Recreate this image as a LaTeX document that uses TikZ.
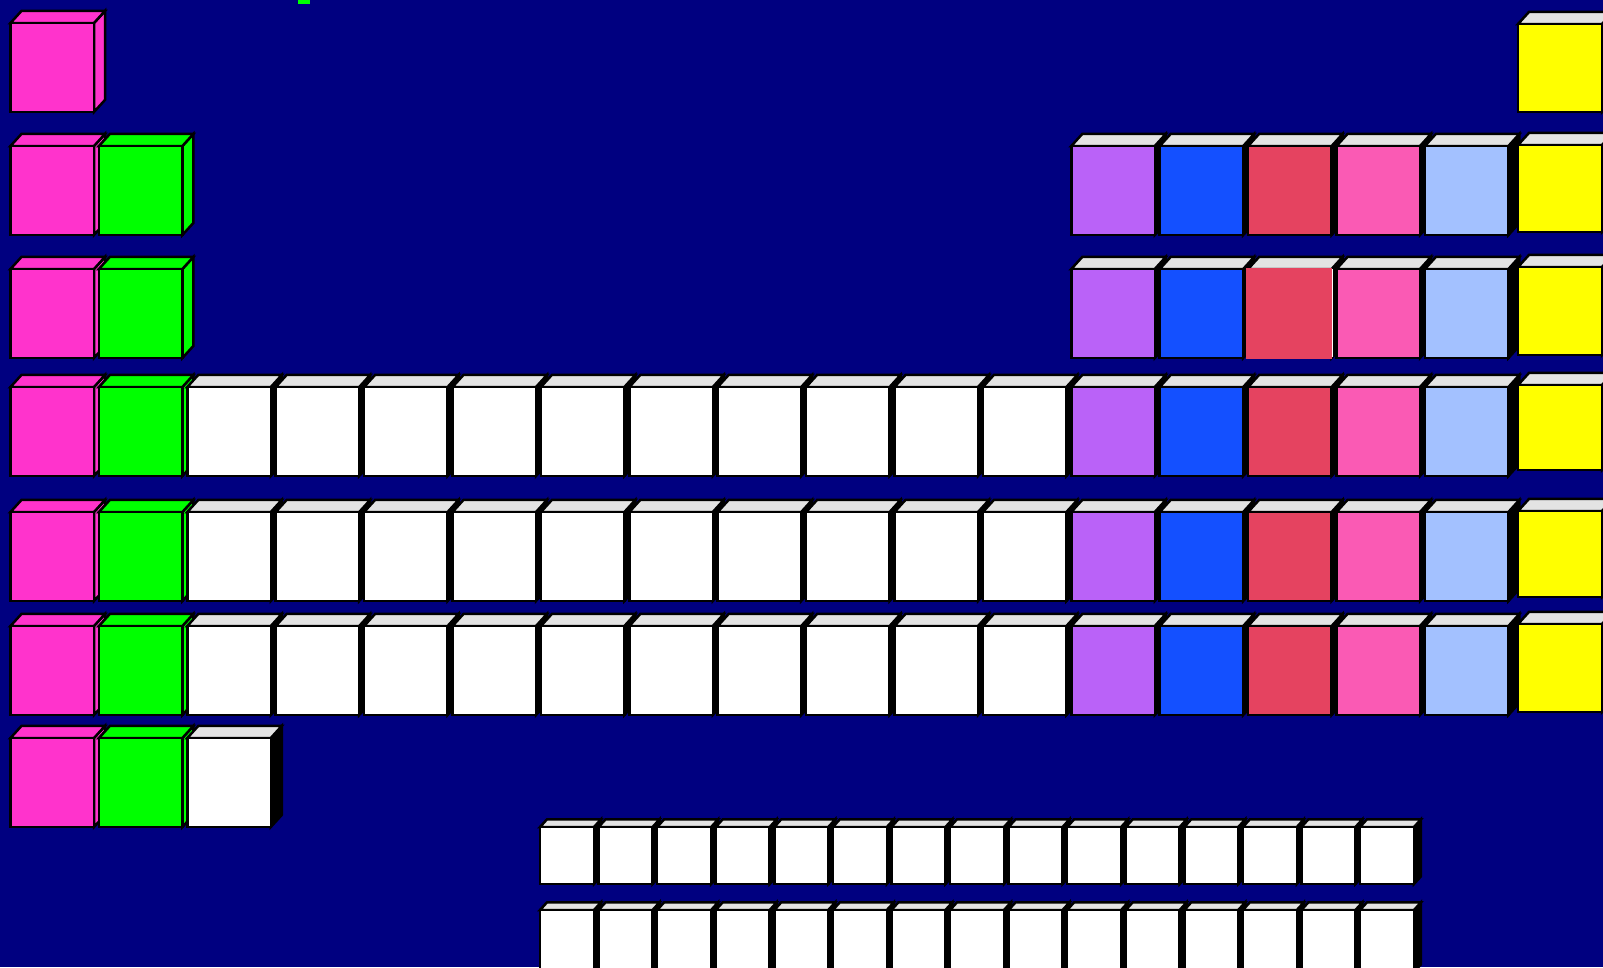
\documentclass[tikz,border=0pt]{standalone}
\usepackage{tikz}
\definecolor{bg}{HTML}{000080}
\definecolor{spink}{HTML}{FF33CC}
\definecolor{sgreen}{HTML}{00FF00}
\definecolor{topgrey}{HTML}{E3E3E3}
\definecolor{ppurple}{HTML}{BA62F8}
\definecolor{pblue}{HTML}{1450FF}
\definecolor{pred}{HTML}{E54360}
\definecolor{ppink}{HTML}{FA5AB4}
\definecolor{plblue}{HTML}{A3C1FF}
\definecolor{nyellow}{HTML}{FFFF00}
% x y w h d front top side
\newcommand\drawcube[8]{%
  \filldraw[cubeline,fill=#8] ({#1+#3},{#2}) -- ++({#5},{-1.1*#5}) -- ++(0,{#4}) -- ({#1+#3},{#2+#4}) -- cycle;
  \filldraw[cubeline,fill=#7] ({#1},{#2}) -- ++({#5},{-1.1*#5}) -- ++({#3},0) -- ({#1+#3},{#2}) -- cycle;
  \filldraw[cubeline,fill=#6] ({#1},{#2}) rectangle ++({#3},{#4});
}
\newcommand\scube[3]{\drawcube{#1}{#2}{83.5}{89}{11}{#3}{#3}{#3}}
\newcommand\gcube[3]{\drawcube{#1}{#2}{83.5}{89}{11}{#3}{topgrey}{black}}
\begin{document}
\begin{tikzpicture}[x=1pt,y=-1pt,cubeline/.style={draw=black,line width=2.5pt}]
\useasboundingbox (0,0) rectangle (1603,967);
\fill[bg] (0,0) rectangle (1603,967);
\clip (0,0) rectangle (1603,967);
\fill[sgreen] (298,0) rectangle (310,3.5);
% s-block
\foreach \y in {23,146,269,387,512,626,738} {\scube{10.5}{\y}{spink}}
\foreach \y in {146,269,387,512,626,738} {\scube{98.9}{\y}{sgreen}}
% d-block
\foreach \y in {387,512,626} {
  \foreach \c in {3,...,12} {\gcube{10.5+88.4*(\c-1)}{\y}{white}}
}
\gcube{187.3}{738}{white}
% p-block
\foreach \y in {146,269,387,512,626} {
  \foreach \c/\col in {13/ppurple,14/pblue,15/pred,16/ppink,17/plblue} {\gcube{10.5+88.4*(\c-1)}{\y}{\col}}
}
% glitch on red cell row 3
\fill[pred] (1246.3,267.7) rectangle (1332.1,358.5);
\draw[white,line width=1pt] (1332.1,269) -- (1332.1,357);
% noble column
\foreach \y/\h in {24/88,145/87,267/88,385/85,511/86,624/88} {
  \drawcube{1518}{\y}{84}{\h}{11}{nyellow}{topgrey}{black}
}
% f-block
\foreach \j in {0,...,14} {
  \drawcube{540+58.57*\j}{827}{54}{57}{7}{white}{topgrey}{black}
  \drawcube{540+58.57*\j}{910}{54}{62}{7}{white}{topgrey}{black}
}
\end{tikzpicture}
\end{document}
